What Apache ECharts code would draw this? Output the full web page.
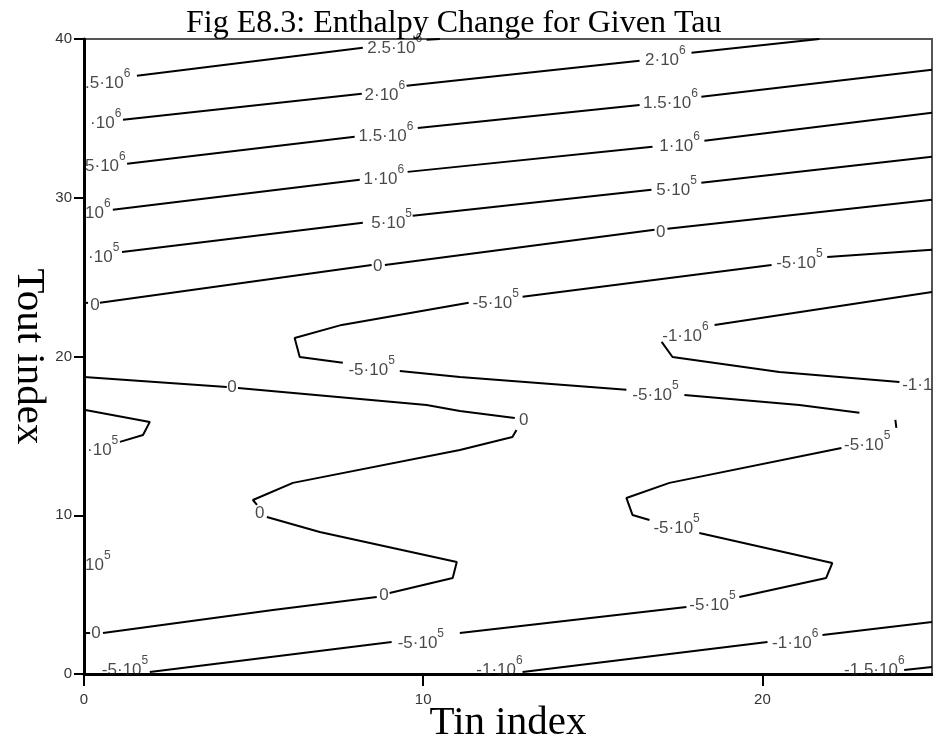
<!DOCTYPE html>
<html>
<head>
<meta charset="utf-8">
<script src="https://cdn.jsdelivr.net/npm/echarts@6/dist/echarts.min.js"></script>
<style>
  html, body { margin: 0; padding: 0; background: #fff; }
  #chart { width: 933px; height: 741px; }
</style>
</head>
<body>
<div id="chart"></div>
<script>
// axis ticks
const xTicks = [0, 10, 20]
const yTicks = [0, 10, 20, 30, 40]

// contour lines, one array per level, each a list of polylines [Tin, Tout]
const c2p5e6 = [
  [[1.56, 37.68], [8.22, 39.45]],
  [[10.10, 39.95], [10.49, 40.0]]
]
const c2e6 = [
  [[1.15, 34.91], [8.19, 36.55]],
  [[9.51, 37.05], [16.38, 38.63]],
  [[17.91, 39.13], [21.68, 40.0]]
]
const c1p5e6 = [
  [[1.27, 32.14], [7.98, 33.84]],
  [[9.84, 34.40], [16.38, 35.85]],
  [[18.20, 36.36], [25, 38.06]]
]
const c1e6 = [
  [[0.85, 29.24], [8.13, 31.13]],
  [[9.54, 31.63], [16.76, 33.21]],
  [[18.29, 33.59], [25, 35.35]]
]
const c5e5 = [
  [[1.12, 26.59], [8.22, 28.42]],
  [[9.69, 28.86], [16.73, 30.50]],
  [[18.20, 30.94], [25, 32.58]],
  [[0, 16.64], [1.94, 15.88], [1.74, 15.06], [1.06, 14.62]]
]
const c0 = [
  [[0, 23.38], [0.12, 23.38]],
  [[0.47, 23.38], [8.48, 25.77]],
  [[8.87, 25.77], [16.82, 27.98]],
  [[17.20, 28.04], [25, 29.87]],
  [[0, 18.71], [4.21, 18.08]],
  [[4.54, 18.02], [10.10, 16.95], [11.08, 16.57], [12.70, 16.13]],
  [[12.75, 15.37], [12.63, 14.93], [11.08, 14.11], [6.16, 12.04], [4.98, 10.96], [5.10, 10.65]],
  [[5.39, 9.89], [6.95, 8.95], [10.99, 7.06], [10.87, 6.05], [9.01, 5.10]],
  [[8.63, 4.85], [5.57, 4.03], [0.56, 2.58]],
  [[0, 2.58], [0.18, 2.58]]
]
const cm5e5 = [
  [[25, 26.72], [21.91, 26.27]],
  [[20.27, 25.77], [12.93, 23.76]],
  [[11.34, 23.38], [7.60, 21.99], [6.21, 21.17], [6.36, 19.97], [7.63, 19.60]],
  [[9.31, 19.09], [11.08, 18.71], [15.99, 17.90]],
  [[17.70, 17.58], [21.09, 16.95], [22.86, 16.45]],
  [[23.92, 16.01], [23.95, 15.50]],
  [[22.33, 14.24], [17.26, 12.04], [15.99, 11.09], [16.17, 10.02], [16.67, 9.70]],
  [[18.14, 8.88], [22.06, 6.99], [21.88, 6.05], [19.32, 4.85]],
  [[17.76, 4.22], [11.08, 2.58]],
  [[9.07, 2.02], [1.94, 0.13]]
]
const cm1e6 = [
  [[25, 24.07], [18.59, 21.99]],
  [[17.03, 20.92], [17.35, 19.97], [20.50, 19.03], [24.04, 18.40]],
  [[25, 3.28], [21.77, 2.46]],
  [[20.15, 2.02], [12.93, 0.13]]
]
const cm1p5e6 = [
  [[24.18, 0.25], [25, 0.44]]
]

// contour labels: [Tin, Tout, text, align]
const labelsPos = [
  [0.03, 37.43, '.5·10^6', 'left'],
  [9.16, 39.63, '2.5·10^6'],
  [0.18, 34.91, '·10^6', 'left'],
  [8.87, 36.67, '2·10^6'],
  [17.14, 38.88, '2·10^6'],
  [0.03, 32.2, '5·10^6', 'left'],
  [8.90, 34.09, '1.5·10^6'],
  [17.29, 36.17, '1.5·10^6'],
  [0.03, 29.24, '10^6', 'left'],
  [8.84, 31.38, '1·10^6'],
  [17.56, 33.46, '1·10^6'],
  [0.12, 26.46, '·10^5', 'left'],
  [9.07, 28.61, '5·10^5'],
  [17.47, 30.69, '5·10^5'],
  [0.09, 14.30, '·10^5', 'left'],
  [0.03, 7.06, '10^5', 'left']
]
const labelsZero = [
  [0.32, 23.25, '0'],
  [8.66, 25.71, '0'],
  [17.0, 27.85, '0'],
  [4.36, 18.08, '0'],
  [12.96, 16.0, '0'],
  [5.18, 10.14, '0'],
  [8.84, 4.98, '0'],
  [0.35, 2.58, '0']
]
const labelsNeg = [
  [21.09, 26.09, '-5·10^5'],
  [12.14, 23.57, '-5·10^5'],
  [8.48, 19.34, '-5·10^5'],
  [16.85, 17.77, '-5·10^5'],
  [23.09, 14.62, '-5·10^5'],
  [17.47, 9.39, '-5·10^5'],
  [18.53, 4.54, '-5·10^5'],
  [9.93, 2.14, '-5·10^5'],
  [1.21, 0.45, '-5·10^5'],
  [17.73, 21.49, '-1·10^6'],
  [24.12, 18.21, '-1·1', 'left'],
  [20.97, 2.14, '-1·10^6'],
  [12.25, 0.45, '-1·10^6'],
  [23.30, 0.45, '-1.5·10^6']
]

const chart = echarts.init(document.getElementById('chart'))

const levels = [c2p5e6, c2e6, c1p5e6, c1e6, c5e5, c0, cm5e5, cm1e6, cm1p5e6]
const series = []
levels.forEach(lines => {
  lines.forEach(seg => {
    series.push({
      type: 'line',
      data: seg,
      symbol: 'none',
      silent: true,
      lineStyle: { color: '#000', width: 2 }
    })
  })
})

const allLabels = labelsPos.concat(labelsZero, labelsNeg)
series.push({
  type: 'scatter',
  symbolSize: 1,
  silent: true,
  itemStyle: { color: 'rgba(0,0,0,0)' },
  data: allLabels.map(l => ({
    value: [l[0], l[1]],
    name: l[2],
    label: l[3] ? { align: l[3] } : {}
  })),
  label: {
    show: true,
    position: 'inside',
    formatter: p => {
      const parts = p.name.split('^')
      if (parts.length === 1) return '{z|' + parts[0] + '}'
      return '{n|' + parts[0] + '}{s|' + parts[1] + '}'
    },
    rich: {
      z: { fontFamily: 'Liberation Sans', fontSize: 17, lineHeight: 18, color: '#1a1a1a' },
      n: { fontFamily: 'Liberation Sans', fontSize: 17, lineHeight: 24, verticalAlign: 'bottom', color: '#1a1a1a' },
      s: { fontFamily: 'Liberation Sans', fontSize: 12, lineHeight: 14, verticalAlign: 'top', color: '#1a1a1a' }
    }
  }
})

const option = {
  animation: false,
  title: {
    text: 'Fig E8.3: Enthalpy Change for Given Tau',
    left: 181,
    top: 3,
    textStyle: { fontFamily: 'Liberation Serif', fontSize: 32, fontWeight: 'normal', color: '#000' }
  },
  grid: {
    left: 84,
    right: 1,
    top: 39,
    bottom: 67,
    show: true,
    borderColor: '#555',
    borderWidth: 2,
    outerBoundsMode: 'none'
  },
  xAxis: {
    type: 'value',
    min: 0,
    max: 25,
    interval: 10,
    name: 'Tin index',
    nameLocation: 'middle',
    nameGap: 29,
    nameMoveOverlap: false,
    nameTextStyle: { fontFamily: 'Liberation Serif', fontSize: 41, color: '#000' },
    splitLine: { show: false },
    axisLine: { onZero: false, lineStyle: { color: '#000', width: 3 } },
    axisTick: { length: 12, customValues: xTicks, lineStyle: { color: '#000', width: 2 } },
    axisLabel: { customValues: xTicks, margin: 18, fontFamily: 'Liberation Sans', fontSize: 15, color: '#333' }
  },
  yAxis: {
    type: 'value',
    min: 0,
    max: 40,
    interval: 10,
    name: 'Tout index',
    nameLocation: 'middle',
    nameRotate: -90,
    nameGap: 35,
    nameMoveOverlap: false,
    nameTextStyle: { fontFamily: 'Liberation Serif', fontSize: 41, color: '#000' },
    splitLine: { show: false },
    axisLine: { onZero: false, lineStyle: { color: '#000', width: 3 } },
    axisTick: { length: 10, customValues: yTicks, lineStyle: { color: '#000', width: 2 } },
    axisLabel: { customValues: yTicks, margin: 12, fontFamily: 'Liberation Sans', fontSize: 15, color: '#333' }
  },
  series: series
}

chart.setOption(option)
</script>
</body>
</html>
